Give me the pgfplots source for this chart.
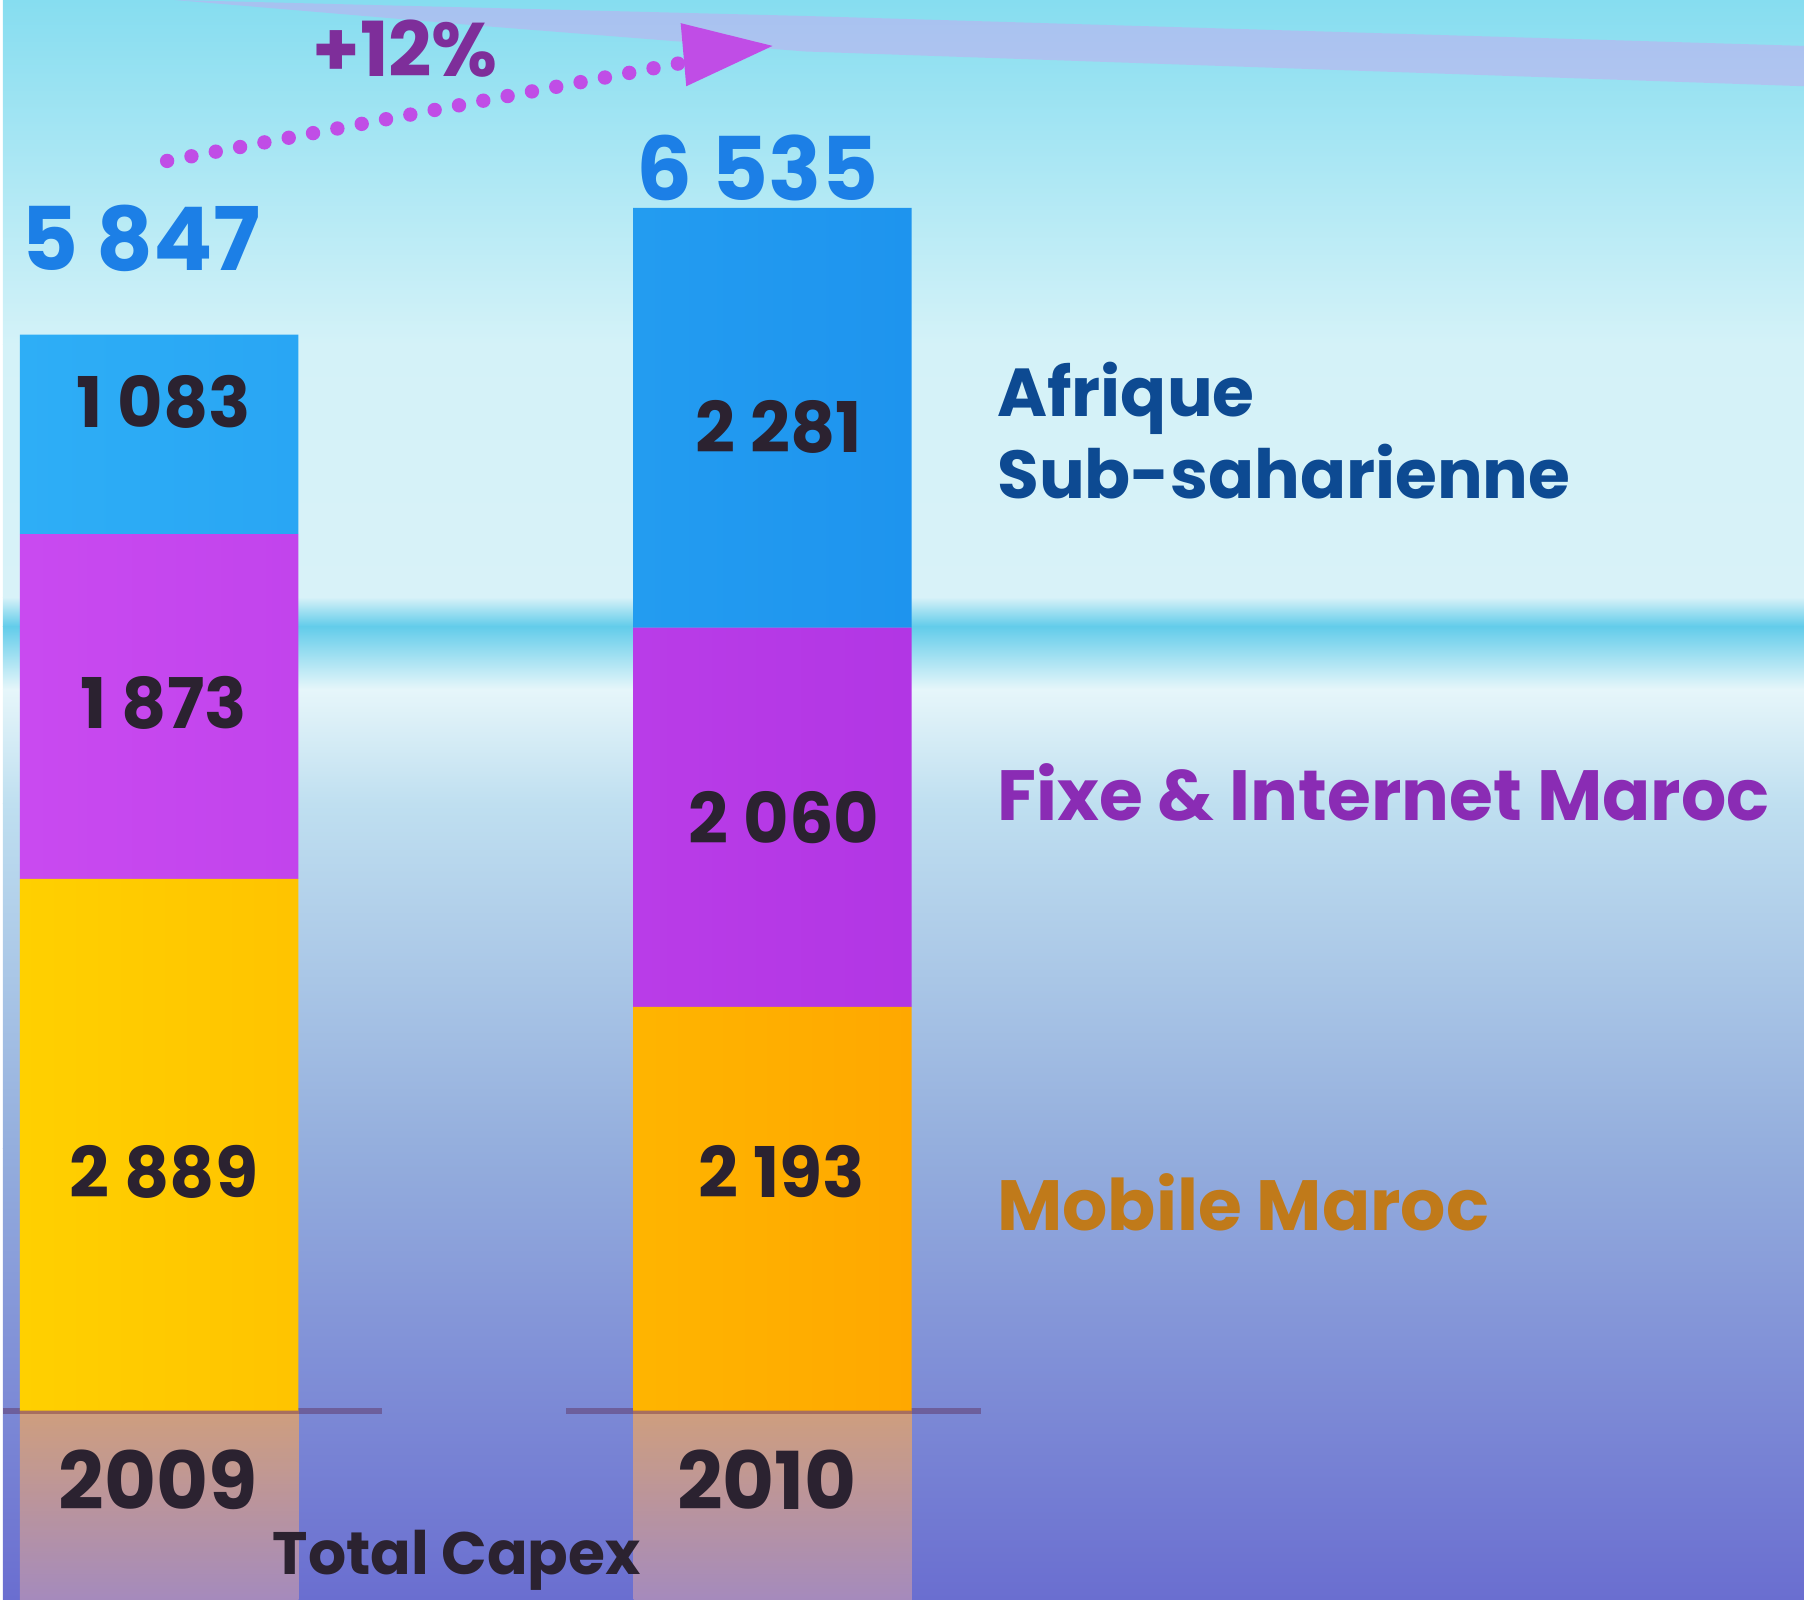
\documentclass[border=0pt]{standalone}
\usepackage{pgfplots}
\pgfplotsset{compat=1.18}
\usepackage{fontspec}
\setmainfont{Poppins}
\definecolor{bg0}{HTML}{6A6ED0}
\definecolor{bg1}{HTML}{94AEDD}
\definecolor{bg2}{HTML}{BFDFF0}
\definecolor{bg3}{HTML}{E6F6FA}
\definecolor{bg4}{HTML}{62CCEA}
\definecolor{bg5}{HTML}{D8F2F8}
\definecolor{bg6}{HTML}{D4F2F8}
\definecolor{bg7}{HTML}{86DDF0}
\definecolor{band}{HTML}{C8A8F0}
\definecolor{yelL}{HTML}{FFD000}
\definecolor{yelR}{HTML}{FFA800}
\definecolor{purL}{HTML}{C94AF0}
\definecolor{purR}{HTML}{B236E4}
\definecolor{bluL}{HTML}{2EAEF6}
\definecolor{bluR}{HTML}{1E94EE}
\definecolor{totblue}{HTML}{1C7FE6}
\definecolor{arrowpur}{HTML}{C04DE6}
\definecolor{pctpur}{HTML}{7E2E9A}
\definecolor{afrnavy}{HTML}{0D4A92}
\definecolor{fixpur}{HTML}{8A2CB4}
\definecolor{mobor}{HTML}{C07A1A}
\definecolor{darktxt}{HTML}{2B2230}
\definecolor{reflT}{HTML}{E4A468}
\definecolor{reflB}{HTML}{B492B8}
\begin{document}
\begin{tikzpicture}
% background
\shade[bottom color=bg0, top color=bg1] (0pt,0pt) rectangle (451pt,112.9pt);
\shade[bottom color=bg1, top color=bg2] (0pt,112.9pt) rectangle (451pt,199.2pt);
\shade[bottom color=bg2, top color=bg3] (0pt,199.2pt) rectangle (451pt,227.9pt);
\shade[bottom color=bg3, top color=bg4] (0pt,227.9pt) rectangle (451pt,243.7pt);
\shade[bottom color=bg4, top color=bg5] (0pt,243.7pt) rectangle (451pt,251pt);
\shade[bottom color=bg5, top color=bg6] (0pt,251pt) rectangle (451pt,314.2pt);
\shade[bottom color=bg6, top color=bg7] (0pt,314.2pt) rectangle (451pt,400.5pt);
\fill[band, opacity=0.5] (43pt,400.5pt) -- (201pt,396.5pt) -- (451pt,389pt) -- (451pt,378.9pt) -- (201pt,387.6pt) -- (120pt,394pt) -- cycle;
% reflections
\shade[top color=reflT, bottom color=reflB, opacity=0.8] (4.2pt,0pt) rectangle (74pt,47.25pt);
\shade[top color=reflT, bottom color=reflB, opacity=0.8] (157.9pt,0pt) rectangle (227.6pt,47.25pt);
% floor shadows
\draw[line width=1.5pt, color=black!60!purple, opacity=0.3] (0pt,47.25pt) -- (95pt,47.25pt);
\draw[line width=1.5pt, color=black!60!purple, opacity=0.3] (141pt,47.25pt) -- (245pt,47.25pt);
\begin{axis}[at={(0pt,0pt)}, anchor=south west, scale only axis,
  width=451pt, height=400.5pt,
  xmin=-0.2546, xmax=2.682, ymin=-1025, ymax=7663,
  hide axis, ybar stacked, bar width=69.75pt, clip=false]
\addplot[draw=none, left color=yelL, right color=yelR] coordinates {(0,2889) (1,2193)};
\addplot[draw=none, left color=purL, right color=purR] coordinates {(0,1873) (1,2060)};
\addplot[draw=none, left color=bluL, right color=bluR] coordinates {(0,1083) (1,2281)};
\end{axis}
% totals
\node[font=\fontsize{22}{24}\selectfont\bfseries, text=totblue] at (34.5pt,340.7pt) {5 847};
\node[font=\fontsize{22}{24}\selectfont\bfseries, text=totblue] at (189pt,358.5pt) {6 535};
% growth arrow
\draw[arrowpur, line width=3.6pt, line cap=round, dash pattern=on 0pt off 6.2pt] (41.1pt,360.2pt) -- (169.7pt,384.7pt);
\fill[arrowpur] (169.7pt,394.7pt) -- (192.7pt,389pt) -- (171.1pt,378.9pt) -- cycle;
\node[font=\fontsize{19}{21}\selectfont\bfseries, text=pctpur] at (100.7pt,388.4pt) {+12\%};
% segment values
\begin{scope}[every node/.style={font=\fontsize{17.5}{19}\selectfont\bfseries, text=darktxt}]
\node at (40.3pt,299.8pt) {1 083};
\node at (40.3pt,224.5pt) {1 873};
\node at (40.3pt,107.1pt) {2 889};
\node at (194.2pt,293.5pt) {2 281};
\node at (195.6pt,195.7pt) {2 060};
\node at (195pt,107.1pt) {2 193};
\end{scope}
% series labels
\node[anchor=west, inner sep=0pt, font=\fontsize{17}{20.5}\selectfont\bfseries, text=afrnavy, align=left] at (248.8pt,292.6pt) {Afrique\\Sub-saharienne};
\node[anchor=west, inner sep=0pt, font=\fontsize{17.8}{18}\selectfont\bfseries, text=fixpur] at (248.8pt,202pt) {Fixe \& Internet Maroc};
\node[anchor=west, inner sep=0pt, font=\fontsize{17.8}{18}\selectfont\bfseries, text=mobor] at (248.8pt,99.4pt) {Mobile Maroc};
% categories
\node[font=\fontsize{20}{22}\selectfont\bfseries, text=darktxt] at (38.8pt,30pt) {2009};
\node[font=\fontsize{20}{22}\selectfont\bfseries, text=darktxt] at (191.3pt,30pt) {2010};
\node[font=\fontsize{15}{17}\selectfont\bfseries, text=darktxt] at (113.6pt,9.9pt) {Total Capex};
\end{tikzpicture}
\end{document}
